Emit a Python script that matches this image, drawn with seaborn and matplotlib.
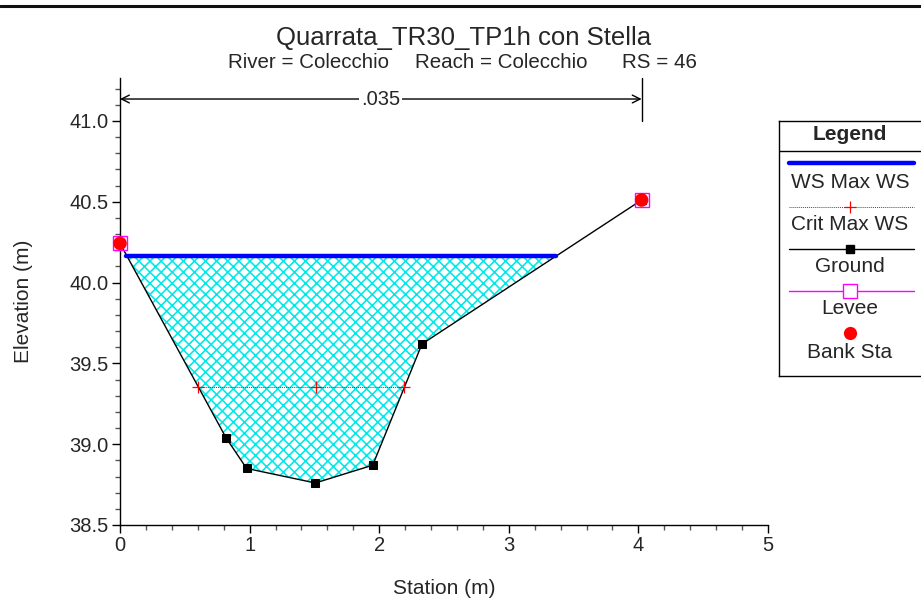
import numpy as np
import pandas as pd
import matplotlib
matplotlib.use("Agg")
import matplotlib.pyplot as plt
import seaborn as sns
from matplotlib.lines import Line2D
from matplotlib.ticker import MultipleLocator

# ---------------- data ----------------
station = [0.0, 0.818, 0.977, 1.507, 1.95, 2.33, 4.025]
elevation = [40.243, 39.04, 38.85, 38.76, 38.87, 39.62, 40.511]
ws_elev = 40.165
ws_stations = [0.05, 3.364]
crit_elev = 39.352
crit_stations = [0.604, 1.51, 2.194]
bank_stations = [0.0, 4.025]
bank_elev = [40.243, 40.511]
levee_stations = [0.0, 4.025]
levee_elev = [40.243, 40.511]
n_value = ".035"
title = "Quarrata_TR30_TP1h con Stella"
sub_parts = ["River = Colecchio", "Reach = Colecchio", "RS = 46"]
legend_labels = ["WS Max WS", "Crit Max WS", "Ground", "Levee", "Bank Sta"]

# ---------------- style ----------------
sns.set_style("ticks")
plt.rcParams["font.family"] = ["Liberation Sans", "DejaVu Sans"]
plt.rcParams["hatch.linewidth"] = 1.15

W, H = 921, 604
fig = plt.figure(figsize=(W / 100, H / 100), dpi=100)
fig.patch.set_facecolor("white")

def fx(px):
    return px / W

def fy(py):
    return 1 - py / H

ax = fig.add_axes([fx(120), fy(525), fx(768) - fx(120), fy(78) - fy(525)])
ax.set_facecolor("white")

ground = pd.DataFrame({"Station": station, "Elevation": elevation})
st = np.array(station)
el = np.array(elevation)

# water fill (cross-hatch)
ax.fill_between(st, el, ws_elev, where=el <= ws_elev, interpolate=True,
                facecolor="white", edgecolor="#00e8e8", hatch="xxx",
                linewidth=0, zorder=1)

# ground
sns.lineplot(data=ground, x="Station", y="Elevation", sort=False, ax=ax,
             color="black", linewidth=1.0, marker="s", markersize=6,
             markeredgecolor="black", zorder=3)

# WS line
ax.plot(ws_stations, [ws_elev] * len(ws_stations), color="#0000ff",
        linewidth=3.2, solid_capstyle="round", zorder=4)

# crit WS
ax.plot(crit_stations, [crit_elev] * len(crit_stations), color="red",
        linestyle=(0, (1, 1)), linewidth=0.7, marker="+", markersize=8,
        markeredgewidth=0.9, zorder=4)

# levee & bank stations
ax.plot(levee_stations, levee_elev, linestyle="none", marker="s",
        markersize=10.5, markerfacecolor="none", markeredgecolor="#ff00ff",
        markeredgewidth=1.0, zorder=5, clip_on=False)
sns.scatterplot(x=bank_stations, y=bank_elev, ax=ax, color="red", s=95,
                edgecolor="none", zorder=6, legend=False, clip_on=False)

ax.set_xlim(0, 5)
ax.set_ylim(38.5, 41.266)
ax.xaxis.set_major_locator(MultipleLocator(1))
ax.xaxis.set_minor_locator(MultipleLocator(0.2))
ax.yaxis.set_major_locator(MultipleLocator(0.5))
ax.yaxis.set_minor_locator(MultipleLocator(0.1))
ax.yaxis.set_major_formatter(matplotlib.ticker.FormatStrFormatter("%.1f"))
ax.tick_params(axis="both", which="major", length=6, width=1.0,
               labelsize=14.5, color="black", pad=2)
ax.tick_params(axis="both", which="minor", length=3.5, width=1.0,
               color="#555555")
for s in ["top", "right"]:
    ax.spines[s].set_visible(False)
for s in ["left", "bottom"]:
    ax.spines[s].set_color("black")
    ax.spines[s].set_linewidth(1.0)

ax.set_xlabel("Station (m)", fontsize=15)
ax.set_ylabel("Elevation (m)", fontsize=15)
ax.xaxis.set_label_coords(0.5, -0.12)
ax.yaxis.set_label_coords(-0.135, 0.5)

# n-value annotation
arrow_y = 41.136
ax.annotate("", xy=(bank_stations[0], arrow_y), xytext=(bank_stations[1], arrow_y),
            arrowprops=dict(arrowstyle="<->", color="black", lw=1.0,
                            shrinkA=0, shrinkB=0, mutation_scale=14),
            annotation_clip=False, zorder=2)
ax.plot([bank_stations[1], bank_stations[1]], [41.0, 41.266], color="black",
        lw=1.0, clip_on=False)
ax.text(np.mean(bank_stations), arrow_y, n_value, ha="center", va="center",
        fontsize=14.5, bbox=dict(facecolor="white", edgecolor="none", pad=1.5),
        zorder=3)

# titles
fig.text(fx(464), fy(45), title, ha="center", va="baseline", fontsize=18.5)
for xp, txt in zip([309, 501, 659], sub_parts):
    fig.text(fx(xp), fy(68), txt, ha="center", va="baseline", fontsize=14.8)

# top border line
fig.add_artist(Line2D([0, 1], [fy(6), fy(6)], color="#111111", lw=2.2,
                      transform=fig.transFigure))

# ---------------- legend box ----------------
lx0, lx1, ly0, ly1 = 779, 926, 376, 121
lax = fig.add_axes([fx(lx0), fy(ly0), fx(lx1) - fx(lx0), fy(ly1) - fy(ly0)])
lax.set_xlim(lx0, lx1)
lax.set_ylim(ly0, ly1)
lax.set_xticks([])
lax.set_yticks([])
for s in lax.spines.values():
    s.set_color("black")
    s.set_linewidth(1.0)
cx = 850
x_a, x_b = 789, 914
lax.text(cx, 135, "Legend", ha="center", va="center", fontsize=15,
         fontweight="bold")
lax.plot([lx0, lx1], [151, 151], color="black", lw=1.0)
# WS
lax.plot([x_a, x_b], [162.7, 162.7], color="#0000ff", lw=3.2,
         solid_capstyle="round")
lax.text(cx, 182, legend_labels[0], ha="center", va="center", fontsize=15)
# Crit
lax.plot([x_a, x_b], [206.7, 206.7], color="red", lw=0.7, linestyle=(0, (1, 1)))
lax.plot([cx], [206.7], color="red", marker="+", markersize=8,
         markeredgewidth=0.9)
lax.text(cx, 225, legend_labels[1], ha="center", va="center", fontsize=15)
# Ground
lax.plot([x_a, x_b], [248.7, 248.7], color="black", lw=1.0)
lax.plot([cx], [248.7], color="black", marker="s", markersize=6)
lax.text(cx, 267, legend_labels[2], ha="center", va="center", fontsize=15)
# Levee
lax.plot([x_a, x_b], [291, 291], color="#ff00ff", lw=1.0)
lax.plot([cx], [291], marker="s", markersize=10.5, markerfacecolor="white",
         markeredgecolor="#ff00ff", markeredgewidth=1.0)
lax.text(cx, 309, legend_labels[3], ha="center", va="center", fontsize=15)
# Bank
lax.plot([cx], [333], marker="o", markersize=9.5, color="red",
         markeredgecolor="none")
lax.text(cx, 353, legend_labels[4], ha="center", va="center", fontsize=15)

fig.savefig("out.png", dpi=100, facecolor="white")
